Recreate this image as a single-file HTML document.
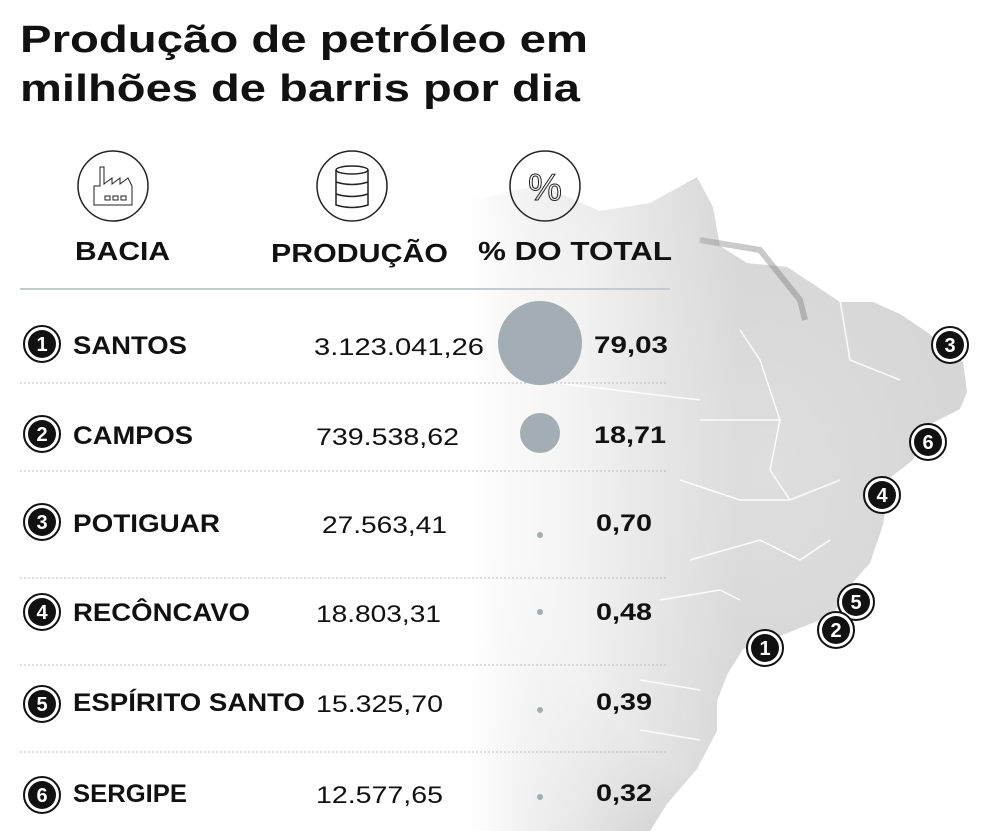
<!DOCTYPE html>
<html><head><meta charset="utf-8"><style>
html,body{margin:0;padding:0;background:#fff;}
svg{display:block}
text{font-family:"Liberation Sans",sans-serif;fill:#111}
.b{font-weight:bold}
</style></head><body>
<svg width="984" height="831" viewBox="0 0 984 831" xmlns="http://www.w3.org/2000/svg">
<defs>
<linearGradient id="fade" gradientUnits="userSpaceOnUse" x1="470" y1="0" x2="740" y2="0">
<stop offset="0" stop-color="#fff" stop-opacity="1"/>
<stop offset="0.4" stop-color="#fff" stop-opacity="0.7"/>
<stop offset="1" stop-color="#fff" stop-opacity="0"/>
</linearGradient>
<radialGradient id="mapg" cx="0.6" cy="0.45" r="0.7">
<stop offset="0" stop-color="#dedede"/>
<stop offset="0.7" stop-color="#d4d4d4"/>
<stop offset="1" stop-color="#a8a8a8"/>
</radialGradient>
</defs>
<!-- map -->
<polygon fill="url(#mapg)" points="470,200 540,185 600,211 650,203 697,177 713,207 720,246 747,263 787,267 813,284 840,302 873,302 900,314 927,332 963,362 967,392 960,409 927,426 913,460 890,478 883,525 870,563 847,589 833,615 800,628 780,636 743,649 727,675 717,701 717,731 697,769 667,804 650,831 470,831"/>
<path d="M700,240 L760,250 L800,300 L805,320" stroke="#777" stroke-width="6" fill="none" opacity="0.4"/>
<g stroke="#fff" stroke-width="1.5" fill="none" opacity="0.9">
<path d="M740,330 L760,360 L780,420 L770,470 L790,500 L840,480"/>
<path d="M700,420 L740,420 L780,420"/>
<path d="M680,480 L740,500 L790,500"/>
<path d="M690,560 L760,540 L800,560 L830,540"/>
<path d="M660,600 L720,590 L740,600"/>
<path d="M840,300 L850,360 L900,380"/>
<path d="M640,680 L700,690"/>
<path d="M640,730 L700,740"/>
<path d="M530,380 L700,400"/>
</g>
<rect x="0" y="150" width="984" height="681" fill="url(#fade)"/>
<!-- title -->
<text class="b" x="20" y="52" font-size="38" textLength="568" lengthAdjust="spacingAndGlyphs">Produção de petróleo em</text>
<text class="b" x="20" y="101" font-size="38" textLength="560" lengthAdjust="spacingAndGlyphs">milhões de barris por dia</text>
<!-- icons -->
<g fill="none" stroke="#222" stroke-width="1.5">
<circle cx="113" cy="186" r="35"/>
<circle cx="352" cy="186" r="35"/>
<circle cx="545" cy="186" r="35"/>
<path d="M94,205 L94,186 L100,186 L100,167 L104,167 L104,184 L112,178 L112,184 L120,178 L120,184 L128,178 L132,186 L132,205 Z" stroke-width="1"/>
<rect x="105" y="196" width="5" height="4" stroke-width="1"/><rect x="113" y="196" width="5" height="4" stroke-width="1"/><rect x="121" y="196" width="5" height="4" stroke-width="1"/>
<ellipse cx="352" cy="170" rx="16" ry="4"/>
<path d="M336,170 L336,205 Q352,210 368,205 L368,170 M336,182 Q352,187 368,182 M336,194 Q352,199 368,194"/>
</g>
<text x="545" y="200" font-size="38" text-anchor="middle" fill="none" stroke="#222" stroke-width="1" style="fill:none">%</text>
<!-- headers -->
<text class="b" x="75" y="260" font-size="26" textLength="95" lengthAdjust="spacingAndGlyphs">BACIA</text>
<text class="b" x="271" y="262" font-size="26" textLength="177" lengthAdjust="spacingAndGlyphs">PRODUÇÃO</text>
<text class="b" x="478" y="260" font-size="26" textLength="194" lengthAdjust="spacingAndGlyphs">% DO TOTAL</text>
<line x1="20" y1="289" x2="670" y2="289" stroke="#c5cace" stroke-width="2"/>
<g stroke="#bbb" stroke-width="1" stroke-dasharray="2,2">
<line x1="20" y1="383" x2="668" y2="383"/>
<line x1="20" y1="471" x2="668" y2="471"/>
<line x1="20" y1="578" x2="668" y2="578"/>
<line x1="20" y1="665" x2="668" y2="665"/>
<line x1="20" y1="752" x2="668" y2="752"/>
</g>
<!-- bubbles -->
<g fill="#a2adb4">
<circle cx="540" cy="343" r="42"/>
<circle cx="540" cy="433" r="20"/>
<circle cx="540" cy="535" r="3"/>
<circle cx="540" cy="612" r="3"/>
<circle cx="540" cy="710" r="3"/>
<circle cx="540" cy="797" r="3"/>
</g>
<g font-size="25">
<text class="b" x="73" y="354" textLength="114" lengthAdjust="spacingAndGlyphs">SANTOS</text>
<text class="b" x="73" y="444" textLength="120" lengthAdjust="spacingAndGlyphs">CAMPOS</text>
<text class="b" x="73" y="532" textLength="147" lengthAdjust="spacingAndGlyphs">POTIGUAR</text>
<text class="b" x="73" y="621" textLength="177" lengthAdjust="spacingAndGlyphs">RECÔNCAVO</text>
<text class="b" x="73" y="711" textLength="232" lengthAdjust="spacingAndGlyphs">ESPÍRITO SANTO</text>
<text class="b" x="73" y="802" textLength="114" lengthAdjust="spacingAndGlyphs">SERGIPE</text>
</g>
<g font-size="24">
<text x="314" y="355" textLength="170" lengthAdjust="spacingAndGlyphs">3.123.041,26</text>
<text x="316" y="445" textLength="143" lengthAdjust="spacingAndGlyphs">739.538,62</text>
<text x="322" y="533" textLength="125" lengthAdjust="spacingAndGlyphs">27.563,41</text>
<text x="316" y="622" textLength="125" lengthAdjust="spacingAndGlyphs">18.803,31</text>
<text x="316" y="712" textLength="127" lengthAdjust="spacingAndGlyphs">15.325,70</text>
<text x="316" y="803" textLength="127" lengthAdjust="spacingAndGlyphs">12.577,65</text>
</g>
<g font-size="24">
<text class="b" x="594" y="353" textLength="74" lengthAdjust="spacingAndGlyphs">79,03</text>
<text class="b" x="594" y="443" textLength="72" lengthAdjust="spacingAndGlyphs">18,71</text>
<text class="b" x="596" y="531" textLength="56" lengthAdjust="spacingAndGlyphs">0,70</text>
<text class="b" x="596" y="620" textLength="56" lengthAdjust="spacingAndGlyphs">0,48</text>
<text class="b" x="596" y="710" textLength="56" lengthAdjust="spacingAndGlyphs">0,39</text>
<text class="b" x="596" y="801" textLength="56" lengthAdjust="spacingAndGlyphs">0,32</text>
</g>
<!-- row number badges -->
<g>
<g transform="translate(42,344)"><circle r="18" fill="#fff" stroke="#111" stroke-width="2"/><circle r="14" fill="#111"/><text class="b" y="7" font-size="20" text-anchor="middle" style="fill:#fff">1</text></g>
<g transform="translate(42,434)"><circle r="18" fill="#fff" stroke="#111" stroke-width="2"/><circle r="14" fill="#111"/><text class="b" y="7" font-size="20" text-anchor="middle" style="fill:#fff">2</text></g>
<g transform="translate(42,522)"><circle r="18" fill="#fff" stroke="#111" stroke-width="2"/><circle r="14" fill="#111"/><text class="b" y="7" font-size="20" text-anchor="middle" style="fill:#fff">3</text></g>
<g transform="translate(42,612)"><circle r="18" fill="#fff" stroke="#111" stroke-width="2"/><circle r="14" fill="#111"/><text class="b" y="7" font-size="20" text-anchor="middle" style="fill:#fff">4</text></g>
<g transform="translate(42,704)"><circle r="18" fill="#fff" stroke="#111" stroke-width="2"/><circle r="14" fill="#111"/><text class="b" y="7" font-size="20" text-anchor="middle" style="fill:#fff">5</text></g>
<g transform="translate(42,795)"><circle r="18" fill="#fff" stroke="#111" stroke-width="2"/><circle r="14" fill="#111"/><text class="b" y="7" font-size="20" text-anchor="middle" style="fill:#fff">6</text></g>
</g>
<!-- map badges -->
<g>
<g transform="translate(950,345)"><circle r="18" fill="#fff" stroke="#111" stroke-width="2"/><circle r="14" fill="#111"/><text class="b" y="7" font-size="20" text-anchor="middle" style="fill:#fff">3</text></g>
<g transform="translate(928,442)"><circle r="18" fill="#fff" stroke="#111" stroke-width="2"/><circle r="14" fill="#111"/><text class="b" y="7" font-size="20" text-anchor="middle" style="fill:#fff">6</text></g>
<g transform="translate(882,495)"><circle r="18" fill="#fff" stroke="#111" stroke-width="2"/><circle r="14" fill="#111"/><text class="b" y="7" font-size="20" text-anchor="middle" style="fill:#fff">4</text></g>
<g transform="translate(856,602)"><circle r="18" fill="#fff" stroke="#111" stroke-width="2"/><circle r="14" fill="#111"/><text class="b" y="7" font-size="20" text-anchor="middle" style="fill:#fff">5</text></g>
<g transform="translate(836,630)"><circle r="18" fill="#fff" stroke="#111" stroke-width="2"/><circle r="14" fill="#111"/><text class="b" y="7" font-size="20" text-anchor="middle" style="fill:#fff">2</text></g>
<g transform="translate(765,648)"><circle r="18" fill="#fff" stroke="#111" stroke-width="2"/><circle r="14" fill="#111"/><text class="b" y="7" font-size="20" text-anchor="middle" style="fill:#fff">1</text></g>
</g>
</svg>
</body></html>
